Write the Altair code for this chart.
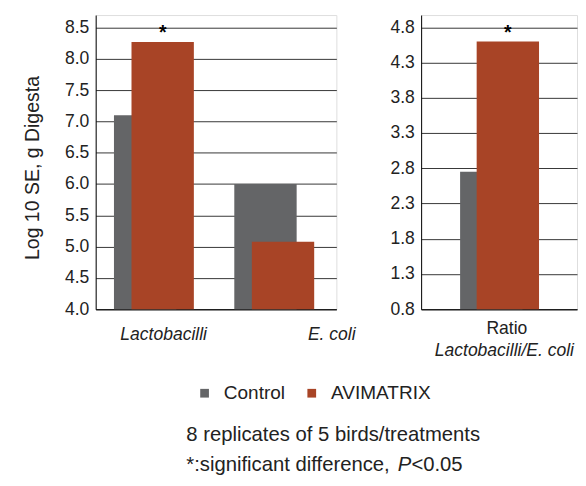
import altair as alt
import pandas as pd

# ---- data -------------------------------------------------------------
series = ["Control", "AVIMATRIX"]
bacteria = ["Lactobacilli", "E. coli"]
control_log = [7.10, 6.00]
avimatrix_log = [8.27, 5.08]
ratio_cat = ["Ratio"]
ratio_sub = ["Lactobacilli/E. coli"]
control_ratio = [2.75]
avimatrix_ratio = [4.60]
significant = ["Lactobacilli", "Ratio"]
left_ticks = [4.0, 4.5, 5.0, 5.5, 6.0, 6.5, 7.0, 7.5, 8.0, 8.5]
right_ticks = [0.8, 1.3, 1.8, 2.3, 2.8, 3.3, 3.8, 4.3, 4.8]
y_title = "Log 10 SE, g Digesta"
note_1 = "8 replicates of 5 birds/treatments"
note_2 = ["*:significant difference, ", "P", "<0.05"]

GRAY = "#646567"
RED = "#A84426"
FONT = "Liberation Sans"
TXT = "#222222"

W1, W2, H = 247, 160, 302

left_df = pd.DataFrame({
    "cat": bacteria * 2,
    "series": [series[0]] * len(bacteria) + [series[1]] * len(bacteria),
    "value": control_log + avimatrix_log,
})
right_df = pd.DataFrame({
    "cat": ratio_cat * 2,
    "series": [series[0]] * len(ratio_cat) + [series[1]] * len(ratio_cat),
    "value": control_ratio + avimatrix_ratio,
})

color = alt.Color(
    "series:N",
    scale=alt.Scale(domain=series, range=[GRAY, RED]),
    legend=alt.Legend(
        orient="none", legendX=102, legendY=378, direction="horizontal",
        symbolType="square", symbolSize=80, symbolStrokeWidth=0,
        labelFontSize=19.5, labelFont=FONT, labelColor=TXT,
        columnPadding=17, labelOffset=10, title=None, padding=0,
    ),
)


def panel(df, cats, domain, ticks, title, off_ctrl, off_avi):
    x = alt.X("cat:N", sort=cats,
              scale=alt.Scale(domain=cats, paddingInner=0, paddingOuter=0),
              axis=alt.Axis(labels=False, ticks=False, title=None, grid=False,
                            domainColor="#000000"))
    y = alt.Y("value:Q",
              scale=alt.Scale(domain=domain, nice=False, zero=False),
              axis=alt.Axis(values=ticks, format=".1f", title=title,
                            grid=True, gridColor="#333333", gridWidth=1,
                            domainColor="#000000", ticks=False,
                            labelFontSize=18, labelPadding=7, labelColor=TXT,
                            labelFont=FONT, titleFont=FONT, titleFontSize=20,
                            titleFontWeight="normal", titleColor=TXT,
                            titlePadding=23, titleY=H / 2 + 5.5))
    base = alt.Chart(df)
    ctrl = base.transform_filter(alt.datum.series == series[0]).mark_bar(
        size=64, xOffset=off_ctrl, clip=True).encode(x=x, y=y, color=color)
    avi = base.transform_filter(alt.datum.series == series[1]).mark_bar(
        size=64, xOffset=off_avi, clip=True).encode(x=x, y=y, color=color)
    star = base.transform_filter(alt.datum.series == series[1]).transform_filter(
        alt.FieldOneOfPredicate(field="cat", oneOf=significant)).mark_text(
        text="*", xOffset=off_avi, dy=-3, fontSize=20, fontWeight="bold",
        baseline="alphabetic", font=FONT, color="#000000").encode(x=x, y=y)
    return x, [ctrl, avi, star]


xl, left_layers = panel(left_df, bacteria, [4.0, 8.7], left_ticks, y_title, -11, 7)
xr, right_layers = panel(right_df, ratio_cat, [0.8, 4.975], right_ticks, None, -8, 9)

cat_df = pd.DataFrame({"cat": bacteria})
lab_lacto = alt.Chart(cat_df).transform_filter(alt.datum.cat == bacteria[0]).mark_text(
    fontStyle="italic", fontSize=18, font=FONT, color=TXT, baseline="alphabetic", dx=8
).encode(x=xl, y=alt.value(H + 32), text="cat:N")
lab_ecoli = alt.Chart(cat_df).transform_filter(alt.datum.cat == bacteria[1]).mark_text(
    fontStyle="italic", fontSize=18, font=FONT, color=TXT, baseline="alphabetic", dx=57
).encode(x=xl, y=alt.value(H + 32), text="cat:N")

NOTE_FS = 20.8
n1 = alt.Chart(pd.DataFrame({"t": [note_1]})).mark_text(
    align="left", baseline="alphabetic", fontSize=NOTE_FS, font=FONT, color=TXT
).encode(x=alt.value(93), y=alt.value(437), text="t:N")
n2a = alt.Chart(pd.DataFrame({"t": [note_2[0]]})).mark_text(
    align="left", baseline="alphabetic", fontSize=NOTE_FS, font=FONT, color=TXT
).encode(x=alt.value(93), y=alt.value(468), text="t:N")
n2b = alt.Chart(pd.DataFrame({"t": [note_2[1]]})).mark_text(
    align="left", baseline="alphabetic", fontSize=NOTE_FS, font=FONT, color=TXT,
    fontStyle="italic"
).encode(x=alt.value(310), y=alt.value(468), text="t:N")
n2c = alt.Chart(pd.DataFrame({"t": [note_2[2]]})).mark_text(
    align="left", baseline="alphabetic", fontSize=NOTE_FS, font=FONT, color=TXT
).encode(x=alt.value(324), y=alt.value(468), text="t:N")

left = alt.layer(*left_layers, lab_lacto, lab_ecoli, n1, n2a, n2b, n2c).properties(
    width=W1, height=H)

rdf = pd.DataFrame({"cat": ratio_cat, "sub": ratio_sub})
lab_ratio = alt.Chart(rdf).mark_text(
    fontSize=18, font=FONT, color=TXT, baseline="alphabetic", dx=8
).encode(x=xr, y=alt.value(H + 25), text="cat:N")
lab_sub = alt.Chart(rdf).mark_text(
    fontSize=18, font=FONT, color=TXT, baseline="alphabetic", align="left",
    fontStyle="italic", limit=W2 - 14, ellipsis=""
).encode(x=alt.value(14), y=alt.value(H + 48), text="sub:N")

right = alt.layer(*right_layers, lab_ratio, lab_sub).properties(width=W2, height=H)

chart = alt.hconcat(left, right, spacing=87, bounds="flush").properties(
    padding={"left": 14, "top": 0, "right": 0, "bottom": 0}
).configure_view(stroke=None).configure(font=FONT)

chart.save("out.html", embed_options={"renderer": "svg", "actions": False})
